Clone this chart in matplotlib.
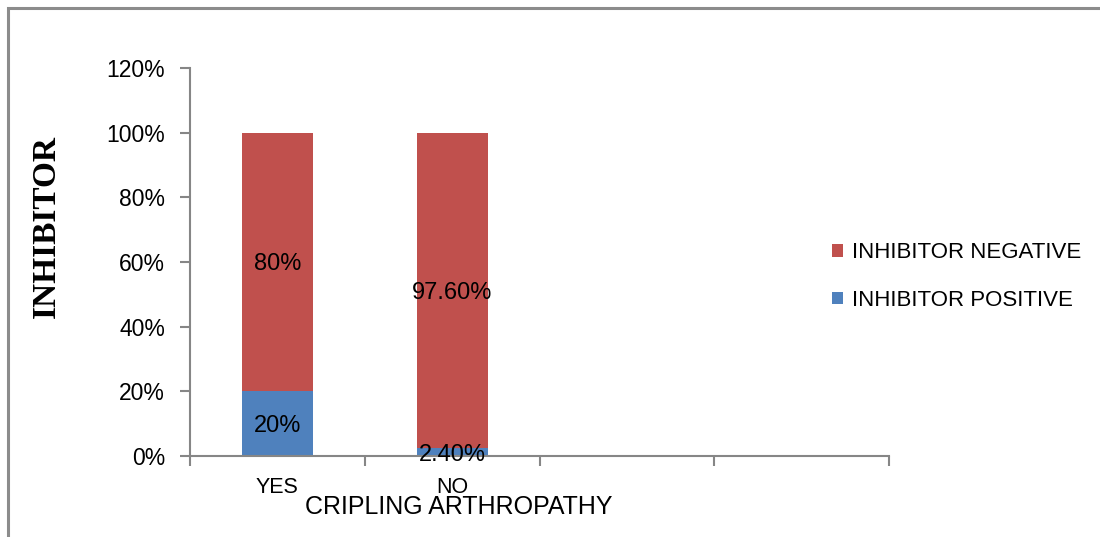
import matplotlib
matplotlib.use("Agg")
import matplotlib.pyplot as plt
from matplotlib.patches import Rectangle
import numpy as np

# Inhibitor status by crippling arthropathy (percent of patients)
categories = ["YES", "NO", "", ""]
inhibitor_positive = [20.0, 2.4]
inhibitor_negative = [80.0, 97.6]
positive_labels = ["20%", "2.40%"]
negative_labels = ["80%", "97.60%"]
y_ticks = [0, 20, 40, 60, 80, 100, 120]

RED = "#C0504D"
BLUE = "#4F81BD"
AXIS_GRAY = "#868686"

plt.rcParams["font.family"] = ["Liberation Sans Narrow", "Liberation Sans",
                               "DejaVu Sans"]

W, H = 1100, 537
fig = plt.figure(figsize=(W / 100, H / 100), dpi=100)

# chart area frame
fig.add_artist(Rectangle((8 / W, -0.05), 1.2, (H - 8) / H + 0.05,
                         transform=fig.transFigure, fill=False,
                         edgecolor="#8C8C8C", linewidth=2.2))

ax = fig.add_axes([190 / W, (H - 456) / H, (889 - 190) / W, (456 - 68) / H])

x = np.arange(len(categories))
n = len(inhibitor_positive)
bar_w = 0.405
ax.bar(x[:n], inhibitor_positive, bar_w, color=BLUE, label="INHIBITOR POSITIVE",
       zorder=2)
ax.bar(x[:n], inhibitor_negative, bar_w, bottom=inhibitor_positive, color=RED,
       label="INHIBITOR NEGATIVE", zorder=2)

label_fs = 17
for i in range(n):
    ax.text(x[i], inhibitor_positive[i] / 2, positive_labels[i], ha="center",
            va="center_baseline", fontsize=label_fs, color="black", zorder=3)
    ax.text(x[i], inhibitor_positive[i] + inhibitor_negative[i] / 2,
            negative_labels[i], ha="center", va="center_baseline",
            fontsize=label_fs, color="black", zorder=3)

ax.set_xlim(-0.5, len(categories) - 0.5)
ax.set_ylim(0, 120)
ax.set_yticks(y_ticks)
ax.set_yticklabels([f"{v}%" for v in y_ticks], fontsize=16.5)

# category boundaries carry the tick marks; names sit under each slot
ax.set_xticks(np.arange(len(categories) + 1) - 0.5)
ax.set_xticklabels([])
ax.tick_params(axis="x", length=7, width=1.5, color=AXIS_GRAY, direction="out")
ax.tick_params(axis="y", length=7, width=1.5, color=AXIS_GRAY, direction="out",
               pad=11)
for i, c in enumerate(categories):
    ax.text(x[i], -6.6, c, ha="center", va="top", fontsize=15.5,
            transform=ax.transData)

for side in ("top", "right"):
    ax.spines[side].set_visible(False)
for side in ("left", "bottom"):
    ax.spines[side].set_color(AXIS_GRAY)
    ax.spines[side].set_linewidth(1.5)

fig.text(459 / W, 1 - 507 / H, "CRIPLING ARTHROPATHY", ha="center",
         va="center", fontsize=18)
fig.text(46 / W, 1 - 226 / H, "INHIBITOR", rotation=90, ha="center",
         va="center", fontsize=24, fontweight="bold",
         family=["Liberation Serif", "DejaVu Serif"])

handles, labels = ax.get_legend_handles_labels()
leg = fig.legend(handles[::-1], labels[::-1], loc="center left",
                 bbox_to_anchor=(812 / W, 1 - 276.5 / H), frameon=False,
                 fontsize=16, handlelength=0.5, handleheight=0.5,
                 handletextpad=0.4, labelspacing=1.2, borderpad=0.4)

fig.savefig("out.png", dpi=100)
